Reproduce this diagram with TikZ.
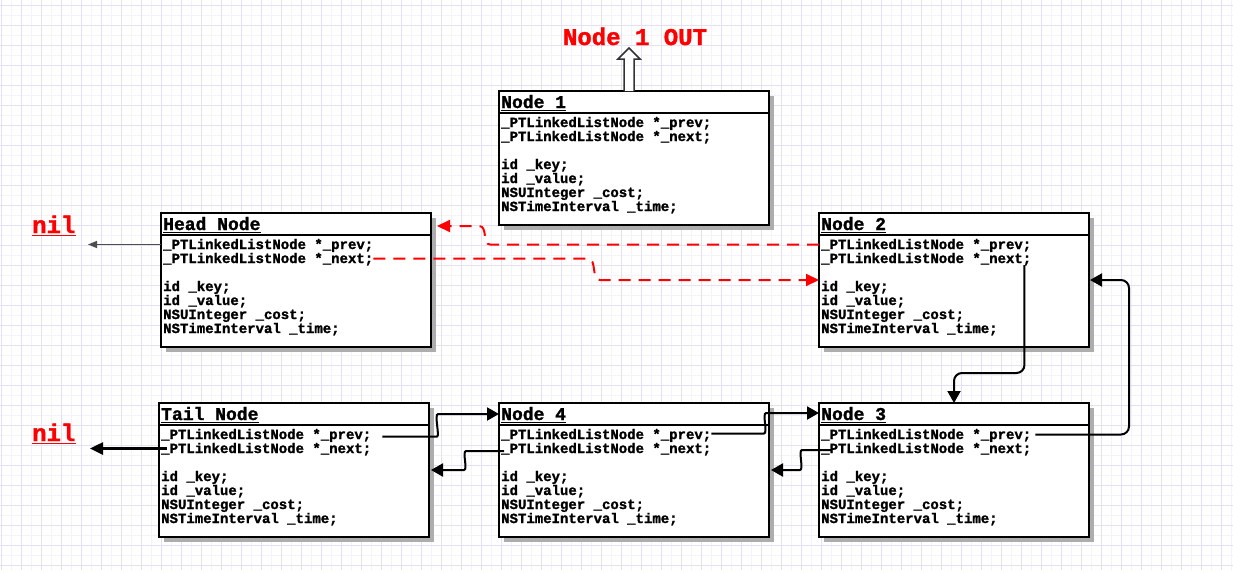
\documentclass[tikz,border=0pt]{standalone}
\usepackage{fontspec}
\setmonofont{Liberation Mono}[BoldFeatures={FakeBold=1.5}]
\usetikzlibrary{arrows.meta}

\definecolor{gridmajor}{HTML}{E5E1F4}
\definecolor{gridminor}{HTML}{F4F3FA}
\definecolor{boxshade}{HTML}{ADADAD}
\definecolor{linkred}{HTML}{FF0000}
\definecolor{nilgray}{HTML}{4D4D4D}
\definecolor{outline}{HTML}{333333}

\newcommand\rowfont{\ttfamily\bfseries\fontsize{14}{14}\selectfont}
\newcommand\headfont{\ttfamily\bfseries\fontsize{18}{18}\selectfont}
\newcommand\bigfont{\ttfamily\bfseries\fontsize{24}{24}\selectfont}

\tikzset{
  listbox/.style={draw=black, line width=2pt, fill=white, minimum width=270pt,
    minimum height=134pt, inner sep=0pt, outer sep=0pt, anchor=north west},
  boxrule/.style={draw=black, line width=2pt},
  boxshadow/.style={fill=boxshade},
  titletext/.style={anchor=base west, inner sep=0pt, font=\headfont},
  rowtext/.style={anchor=base west, inner sep=0pt, font=\rowfont,
    text height=11pt, text depth=2pt},
  titleline/.style={line width=1.3pt},
  redlabel/.style={inner sep=0pt, font=\bigfont, text=linkred},
  reddash/.style={draw=linkred, line width=2pt, dash pattern=on 12pt off 8pt,
    -{Triangle[length=13pt,width=12pt]}},
  blackarrow/.style={draw=black, line width=2pt, rounded corners=8pt,
    -{Triangle[length=12pt,width=13pt]}},
  nilthin/.style={draw=nilgray, line width=1.5pt, -{Triangle[length=9pt,width=7pt]}},
  nilthick/.style={draw=black, line width=2.5pt, -{Triangle[length=13pt,width=12pt]}},
  outarrow/.style={draw=outline, line width=1.5pt, fill=white, line join=miter},
  gmajor/.style={draw=gridmajor, line width=1pt},
  gminor/.style={draw=gridminor, line width=1pt},
}

% A list node box: name, left x, top y, title
\newcommand\ListNodeBox[4]{%
  \fill[boxshadow] (#2+5,#3+5) rectangle ++(270,134);
  \node[listbox] (#1) at (#2,#3) {};
  \draw[boxrule] (#2,#3+22) -- ++(270,0);
  \node[titletext] (#1-title) at (#2+2,#3+17) {#4};
  \draw[titleline] ([yshift=-2.5pt]#1-title.base west) -- ([yshift=-2.5pt]#1-title.base east);
  \node[rowtext] (#1-prev) at (#2+2,#3+36) {\_PTLinkedListNode *\_prev;};
  \node[rowtext] (#1-next) at (#2+2,#3+50) {\_PTLinkedListNode *\_next;};
  \node[rowtext] (#1-key) at (#2+2,#3+78) {id \_key;};
  \node[rowtext] (#1-value) at (#2+2,#3+92) {id \_value;};
  \node[rowtext] (#1-cost) at (#2+2,#3+106) {NSUInteger \_cost;};
  \node[rowtext] (#1-time) at (#2+2,#3+120) {NSTimeInterval \_time;};
}

\begin{document}
\begin{tikzpicture}[x=1pt, y=-1pt]
  \useasboundingbox (0,0) rectangle (1233,570);
  \fill[white] (0,0) rectangle (1233,570);

  % background grid
  \foreach \gx in {11,31,...,1231} \draw[gminor] (\gx,0) -- (\gx,570);
  \foreach \gy in {15,35,...,565} \draw[gminor] (0,\gy) -- (1233,\gy);
  \foreach \gx in {1,21,...,1221} \draw[gmajor] (\gx,0) -- (\gx,570);
  \foreach \gy in {5,25,...,565} \draw[gmajor] (0,\gy) -- (1233,\gy);

  % list nodes
  \ListNodeBox{node1}{499}{91}{Node 1}
  \ListNodeBox{head}{161}{213}{Head Node}
  \ListNodeBox{node2}{819}{213}{Node 2}
  \ListNodeBox{tail}{159}{403}{Tail Node}
  \ListNodeBox{node4}{499}{403}{Node 4}
  \ListNodeBox{node3}{819}{403}{Node 3}

  % removed node
  \node[redlabel, anchor=base] (outlabel) at (635,45) {Node 1 OUT};
  \draw[outarrow] ([xshift=-10pt]node1.north) -- ++(0,-32) -- ++(-6,0) -- ++(11,-11)
    -- ++(11,11) -- ++(-6,0) -- ++(0,32);

  % nil labels
  \node[redlabel, anchor=base west] (nilA) at (32,233) {nil};
  \draw[linkred, line width=1.8pt] ([yshift=-2.5pt]nilA.base west) -- ([yshift=-2.5pt]nilA.base east);
  \node[redlabel, anchor=base west] (nilB) at (32,441) {nil};
  \draw[linkred, line width=1.8pt] ([yshift=-2.5pt]nilB.base west) -- ([yshift=-2.5pt]nilB.base east);
  \coordinate (nilA-tip) at (88,244.5);
  \coordinate (nilB-tip) at (90,448.5);

  % links to nil
  \draw[nilthin] (head.west |- head-prev.west) -- (nilA-tip);
  \draw[nilthick] ([xshift=6pt]tail-next.west) -- (nilB-tip);

  % head <-> node 2 (dashed)
  \draw[reddash] (node2.west |- node2-prev.west) -- (490,244.5)
    .. controls (482,244.5) and (488,226) .. (479,226)
    -- ([shift={(6pt,-13pt)}]head.north east);
  \draw[reddash] (head-next.east) -- (588,258.5)
    .. controls (597,258.5) and (591,280) .. (600,280)
    -- ([yshift=-67pt]node2.north west);

  % node 2 <-> node 3
  \draw[blackarrow] ([xshift=-7pt]node2-next.south east) |- ([yshift=30pt]node3.north)
    -- (node3.north);
  \draw[blackarrow] ([xshift=4pt]node3-prev.east) -| ([shift={(40pt,-67pt)}]node2.north east)
    -- ([shift={(1pt,-67pt)}]node2.north east);

  % tail <-> node 4
  \draw[blackarrow] ([xshift=11pt,yshift=2.5pt]tail-prev.base east) -- (429,436.5)
    .. controls (440,436.5) and (434,414) .. (446,414)
    -- ([yshift=-11pt]node4.north west);
  \draw[blackarrow] ([xshift=3pt,yshift=2pt]node4-next.base west) -- (474,451)
    .. controls (462,451) and (468,470) .. (456,470)
    -- ([shift={(2pt,-67pt)}]tail.north east);

  % node 4 <-> node 3
  \draw[blackarrow] ([yshift=5.5pt]node4-prev.base east) -- (756,433.5)
    .. controls (768,433.5) and (762,413) .. (774,413)
    -- ([yshift=-10pt]node3.north west);
  \draw[blackarrow] ([xshift=10pt,yshift=3pt]node3-next.base west) -- (810,450)
    .. controls (798,450) and (804,470) .. (792,470)
    -- ([shift={(2pt,-67pt)}]node4.north east);
\end{tikzpicture}
\end{document}
